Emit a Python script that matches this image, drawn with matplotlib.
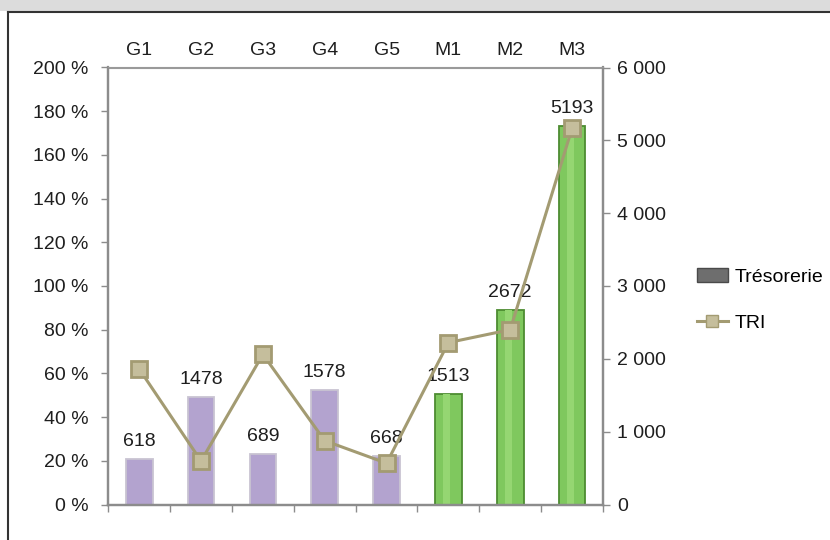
import matplotlib
matplotlib.use("Agg")
import matplotlib.pyplot as plt
from matplotlib.patches import Patch, Rectangle
from matplotlib.lines import Line2D
from matplotlib.ticker import FuncFormatter
import numpy as np

plt.rcParams['font.family'] = ['Liberation Sans', 'DejaVu Sans']

categories = ["G1", "G2", "G3", "G4", "G5", "M1", "M2", "M3"]
tresorerie = [618, 1478, 689, 1578, 668, 1513, 2672, 5193]
tri = [62.0, 19.9, 68.7, 29.2, 18.9, 74.1, 80.0, 172.2]
bar_colors = ["#b3a3cf"] * 5 + ["#7fc85e"] * 3
bar_edges = ["#c9c4d2"] * 5 + ["#4d8c31"] * 3

FS = 14
TXT = "#1e1e1e"
AXC = "#8c8c8c"

fig = plt.figure(figsize=(8.3, 5.4), dpi=100)
fig.patch.set_facecolor("white")

# grey band at the top and the dark frame around the panel
fig.patches.append(Rectangle((0, 1 - 11 / 540), 1, 11 / 540, transform=fig.transFigure,
                             facecolor="#dcdcdc", edgecolor="none", zorder=0))
fig.lines.append(Line2D([8 / 830, 1], [1 - 11.5 / 540] * 2, transform=fig.transFigure,
                        color="#333333", lw=1.5))
fig.lines.append(Line2D([8 / 830] * 2, [0, 1 - 11.5 / 540], transform=fig.transFigure,
                        color="#333333", lw=1.5))

ax = fig.add_axes([108.3 / 830, 35.5 / 540, (603 - 108.3) / 830, (504.5 - 67.5) / 540])
x = np.arange(len(categories))

ax.bar(x, tresorerie, width=0.43, color=bar_colors, edgecolor=bar_edges,
       linewidth=1.3, zorder=2)
# lighter highlight strip on the green bars
for xi, v, c in zip(x, tresorerie, bar_colors):
    if c == "#7fc85e":
        ax.bar(xi - 0.03, v, width=0.12, color="#95d672", edgecolor="none", zorder=2.5)

for xi, v in zip(x, tresorerie):
    ax.annotate(f"{v}", (xi, v), xytext=(0, 6.5), textcoords="offset points",
                ha="center", va="bottom", fontsize=FS, color=TXT)

ax.set_xlim(-0.5, len(categories) - 0.5)
ax.set_ylim(0, 6000)
ax.set_yticks(np.arange(0, 6001, 1000))
ax.yaxis.set_major_formatter(FuncFormatter(lambda v, p: f"{int(v):,}".replace(",", " ")))

ax.set_xticks(np.arange(-0.5, len(categories), 1.0))
ax.set_xticklabels([])
ax.set_xticks(x, minor=True)
ax.set_xticklabels(categories, minor=True)
ax.tick_params(axis="x", which="major", direction="out", length=5, color=AXC,
               width=1, bottom=True, top=False)
ax.tick_params(axis="x", which="minor", length=0, bottom=False, top=False,
               labelbottom=False, labeltop=True, labelsize=FS, pad=6, labelcolor=TXT)

ax2 = ax.twinx()
ax2.plot(x, tri, color="#a39b72", lw=2.2, marker="s", markersize=11,
         markerfacecolor="#c5be9c", markeredgecolor="#a39b72", markeredgewidth=2, zorder=3)
ax2.set_ylim(0, 200)
ax2.set_yticks(np.arange(0, 201, 20))
ax2.yaxis.set_major_formatter(FuncFormatter(lambda v, p: f"{int(v)} %"))

# amounts on the right, percentages on the left
ax.yaxis.tick_right()
ax.yaxis.set_label_position("right")
ax2.yaxis.tick_left()
ax2.yaxis.set_label_position("left")
ax.tick_params(axis="y", which="both", left=False, labelleft=False, right=True,
               labelright=True, direction="out", length=5, color=AXC, width=1,
               labelsize=FS, pad=5, labelcolor=TXT)
ax2.tick_params(axis="y", which="both", right=False, labelright=False, left=True,
                labelleft=True, direction="out", length=5, color=AXC, width=1,
                labelsize=FS, pad=9, labelcolor=TXT)

for a in (ax, ax2):
    for side in ("left", "right", "bottom"):
        a.spines[side].set_color(AXC)
        a.spines[side].set_linewidth(1.6)
    a.spines["top"].set_color("#9a9a9a")
    a.spines["top"].set_linewidth(0.8)

handles = [Patch(facecolor="#6e6e6e", edgecolor="#4a4a4a", label="Trésorerie"),
           Line2D([], [], color="#a39b72", lw=2.2, marker="s", markersize=9,
                  markerfacecolor="#c5be9c", markeredgecolor="#a39b72", label="TRI")]
fig.legend(handles=handles, loc="center left", bbox_to_anchor=(687 / 830, 1 - 300 / 540),
           frameon=False, fontsize=FS, handlelength=1.6, labelspacing=1.45, handletextpad=0.35,
           borderpad=0)

fig.savefig("out.png", dpi=100)
